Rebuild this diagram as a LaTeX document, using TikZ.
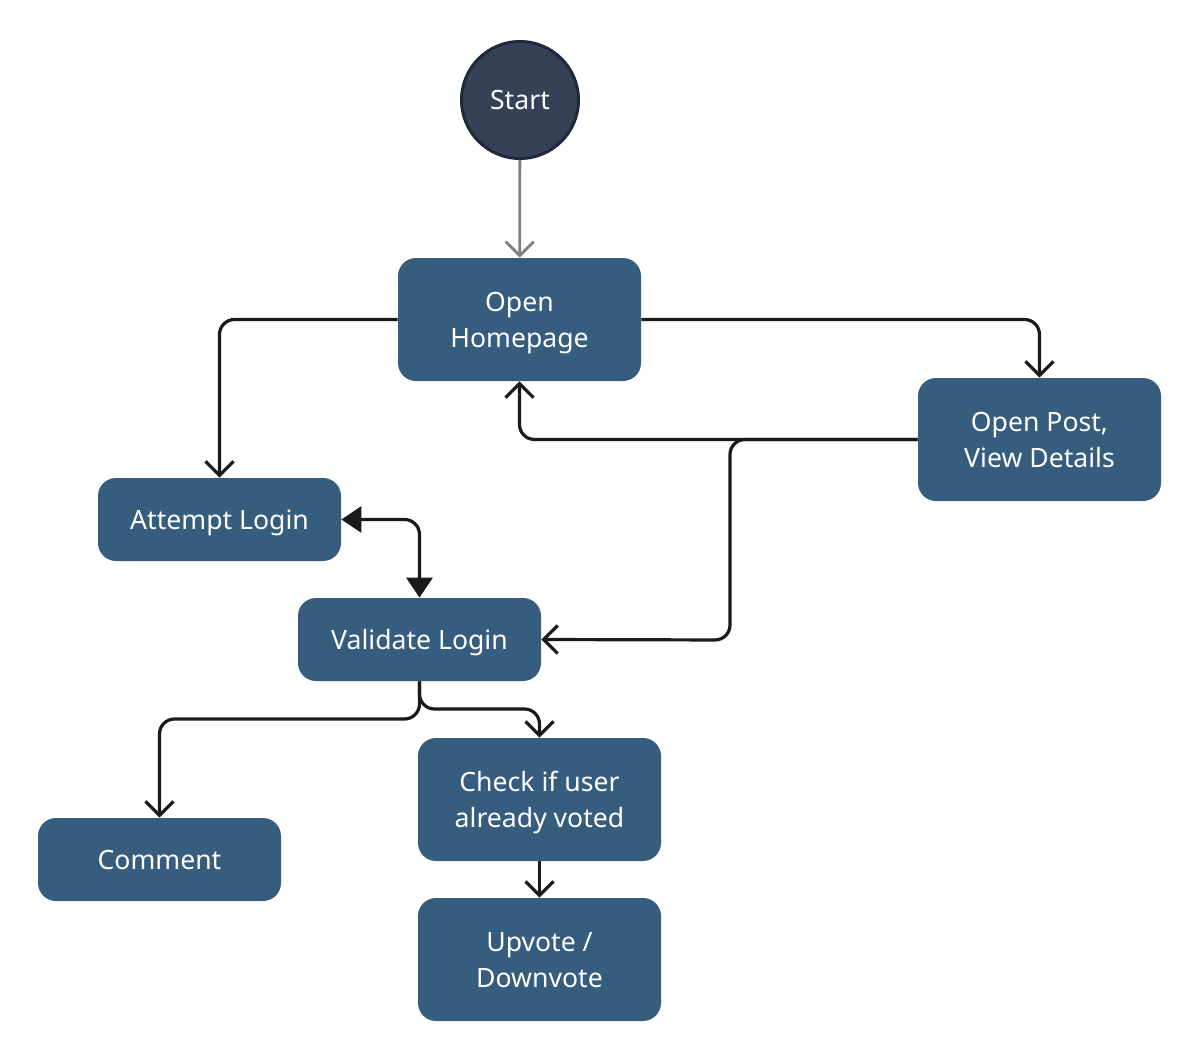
\documentclass[tikz,border=0pt]{standalone}
\usepackage{fontspec}
\setmainfont{Noto Sans}
\usetikzlibrary{arrows.meta}
\definecolor{boxfill}{HTML}{365C7E}
\definecolor{startfill}{HTML}{344157}
\definecolor{startline}{HTML}{1E293B}
\definecolor{linkc}{HTML}{1A1A1A}
\definecolor{grayc}{HTML}{808080}
\tikzset{
  flowbox/.style={draw=none, fill=boxfill, rounded corners=9pt, minimum width=121.5pt,
    text=white, align=center, font=\fontsize{13.3}{18}\selectfont, inner sep=0pt, text depth=0pt},
  startnode/.style={circle, fill=startfill, draw=startline, line width=1.5pt, minimum size=58.5pt,
    text=white, font=\fontsize{13.3}{18}\selectfont, inner sep=0pt, text depth=0pt},
  link/.style={draw=linkc, line width=1.6pt, rounded corners=7.5pt,
    -{Straight Barb[length=7pt,width=14pt,line width=1.6pt]}},
  glink/.style={draw=grayc, line width=1.4pt,
    -{Straight Barb[length=7pt,width=14pt,line width=1.4pt]}},
  dlink/.style={draw=linkc, line width=1.6pt, rounded corners=7.5pt,
    {Triangle[length=10pt,width=13pt]}-{Triangle[length=10pt,width=13pt]}}
}
\begin{document}
\begin{tikzpicture}[x=0.5pt,y=-0.5pt]
\useasboundingbox (0,0) rectangle (1200,1060);
\node[startnode] (start) at (520,100) {Start};
\node[flowbox, minimum height=61.5pt] (home) at (519.5,319.5) {Open\\Homepage};
\node[flowbox, minimum height=61.5pt] (post) at (1039.5,439.5) {Open Post,\\View Details};
\node[flowbox, minimum height=41.5pt] (att) at (219.5,519.5) {Attempt Login};
\node[flowbox, minimum height=41.5pt] (val) at (419.5,639.5) {Validate Login};
\node[flowbox, minimum height=41.5pt] (com) at (159.5,859.5) {Comment};
\node[flowbox, minimum height=61.5pt] (chk) at (539.5,799.5) {Check if user\\already voted};
\node[flowbox, minimum height=61.5pt] (up) at (539.5,959.5) {Upvote /\\Downvote};

\draw[glink] (start) -- (home);
\draw[link] (home.west) -| (att.north);
\draw[link] (home.east) -| (post.north);
\draw[link] (post.west) -| (home.south);
\draw[link] (post.west) -| (730,640) -- (val.east);
\draw[dlink] (att.east) -| (val.north);
\draw[link] (val.south) -- (419.5,719) -| (com.north);
\draw[link] (val.south) -- (419.5,709) -| (chk.north);
\draw[link] (chk) -- (up);
\end{tikzpicture}
\end{document}
